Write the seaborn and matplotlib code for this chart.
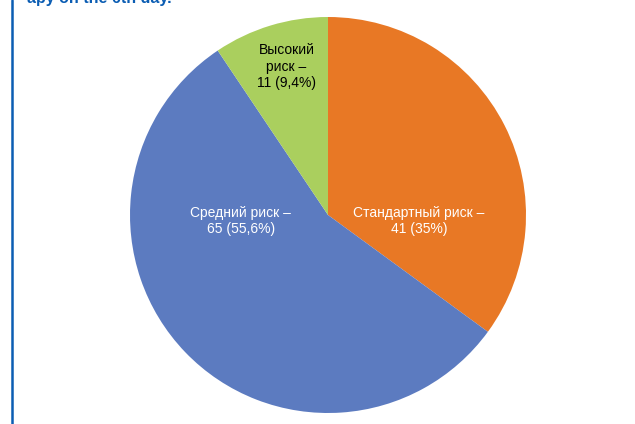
import matplotlib
matplotlib.use("Agg")
import matplotlib.pyplot as plt
import seaborn as sns
from matplotlib.lines import Line2D

# data
groups = ["Стандартный риск", "Средний риск", "Высокий риск"]
counts = [41, 65, 11]
shares = ["35%", "55,6%", "9,4%"]
colors = ["#E87825", "#5C7BC0", "#AACF5E"]
label_colors = ["white", "white", "black"]
label_text = [
    "Стандартный риск –\n41 (35%)",
    "Средний риск –\n65 (55,6%)",
    "Высокий\nриск –\n11 (9,4%)",
]
label_pos = [(0.46, -0.03), (-0.44, -0.03), (-0.21, 0.75)]

sns.set_theme(style="white")
plt.rcParams["font.family"] = ["Liberation Sans", "DejaVu Sans"]

fig = plt.figure(figsize=(6.35, 4.24), dpi=100)
fig.patch.set_facecolor("white")

# pie axes: centre (328, 215) px, radius 198 px
ax = fig.add_axes([130 / 635, 11 / 424, 396 / 635, 396 / 424])
ax.pie(counts, colors=colors, startangle=90, counterclock=False,
       wedgeprops=dict(linewidth=0))
ax.set_xlim(-1, 1)
ax.set_ylim(-1, 1)
ax.set_aspect("equal")
ax.axis("off")

for txt, (x, y), c in zip(label_text, label_pos, label_colors):
    ax.text(x, y, txt, ha="center", va="center", fontsize=10, color=c,
            linespacing=1.25)

# cut-off caption from the page above and the side rule
fig.text(27 / 635, 1 - 3 / 424, "apy on the 6th day.", color="#0B5DB3",
         fontsize=11.5, fontweight="bold", ha="left", va="baseline")
fig.add_artist(Line2D([12 / 635, 12 / 635], [0, 1], transform=fig.transFigure,
                      color="#0B5DB3", linewidth=1.8))

fig.savefig("out.png", dpi=100, facecolor="white")
